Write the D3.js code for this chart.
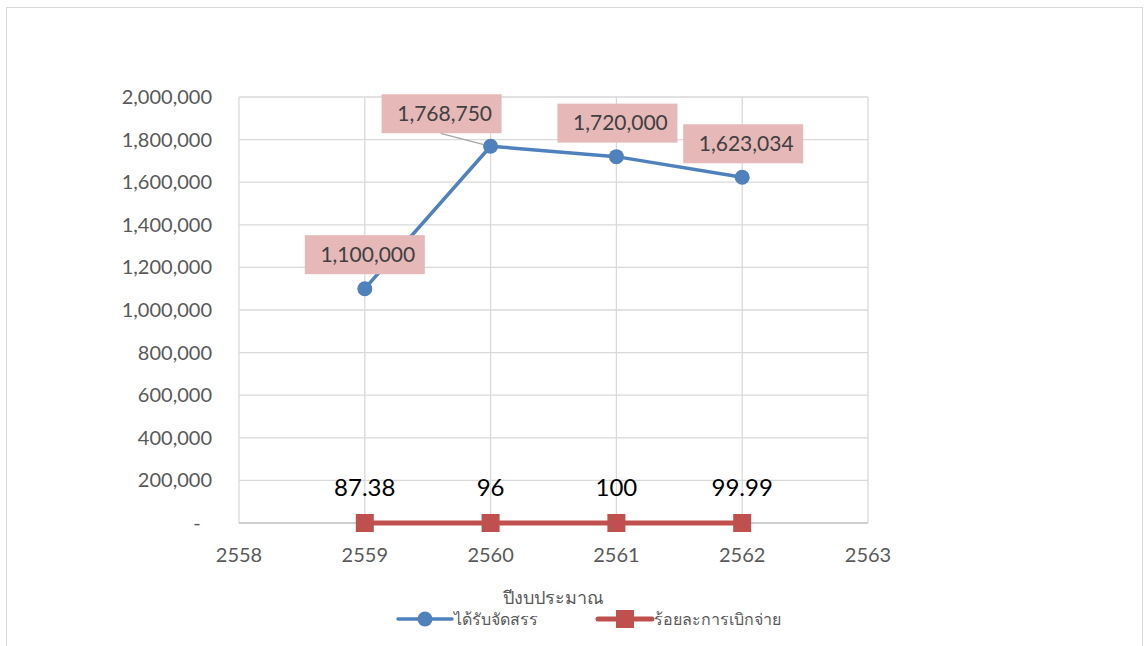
<!DOCTYPE html>
<html>
<head>
<meta charset="utf-8">
<script src="https://cdn.jsdelivr.net/npm/d3@7"></script>
<style>
  body { margin: 0; background: #fff; }
  text { font-family: Lato, "Noto Sans", sans-serif; }
</style>
</head>
<body>
<div id="chart"></div>
<script>
// data
const years = [2559, 2560, 2561, 2562];
const allocated = [1100000, 1768750, 1720000, 1623034];
const disbursedPct = [87.38, 96, 100, 99.99];
const xTicks = [2558, 2559, 2560, 2561, 2562, 2563];
const yTicks = [0, 200000, 400000, 600000, 800000, 1000000, 1200000, 1400000, 1600000, 1800000, 2000000];
const xTitle = "ปีงบประมาณ";
const seriesNames = ["ได้รับจัดสรร", "ร้อยละการเบิกจ่าย"];

const width = 1144, height = 646;
const margin = {top: 97, right: 276, bottom: 123, left: 239};

const svg = d3.select("#chart").append("svg")
    .attr("width", width)
    .attr("height", height);

// outer frame
svg.append("rect")
    .attr("x", 6.5).attr("y", 7.5)
    .attr("width", 1136).attr("height", 650)
    .attr("fill", "none").attr("stroke", "#d9d9d9");

const x = d3.scaleLinear().domain([2558, 2563]).range([margin.left, width - margin.right]);
const y = d3.scaleLinear().domain([0, 2000000]).range([height - margin.bottom, margin.top]);

const fmt = d3.format(",");

// gridlines
svg.append("g").selectAll("line.h")
    .data(yTicks.slice(1))
    .enter().append("line")
    .attr("x1", x(2558)).attr("x2", x(2563))
    .attr("y1", d => y(d)).attr("y2", d => y(d))
    .attr("stroke", "#d9d9d9").attr("stroke-width", 1.3);

svg.append("g").selectAll("line.v")
    .data(xTicks)
    .enter().append("line")
    .attr("x1", d => x(d)).attr("x2", d => x(d))
    .attr("y1", y(0)).attr("y2", y(2000000))
    .attr("stroke", "#d9d9d9").attr("stroke-width", 1.3);

// bottom axis line
svg.append("line")
    .attr("x1", x(2558)).attr("x2", x(2563))
    .attr("y1", y(0)).attr("y2", y(0))
    .attr("stroke", "#bfbfbf").attr("stroke-width", 1.3);

// y tick labels
svg.append("g").selectAll("text")
    .data(yTicks)
    .enter().append("text")
    .attr("x", d => d === 0 ? 197 : 212)
    .attr("y", d => y(d) + 7)
    .attr("text-anchor", d => d === 0 ? "middle" : "end")
    .attr("font-size", 20)
    .attr("fill", "#595959")
    .text(d => d === 0 ? "-" : fmt(d));

// x tick labels
svg.append("g").selectAll("text")
    .data(xTicks)
    .enter().append("text")
    .attr("x", d => x(d))
    .attr("y", 562)
    .attr("text-anchor", "middle")
    .attr("font-size", 20)
    .attr("fill", "#595959")
    .text(d => d);

// x title
svg.append("text")
    .attr("x", 553).attr("y", 604)
    .attr("text-anchor", "middle")
    .attr("font-size", 18)
    .attr("fill", "#595959")
    .text(xTitle);

// allocated series
const line = d3.line().x((d, i) => x(years[i])).y(d => y(d));

svg.append("path")
    .datum(allocated)
    .attr("d", line)
    .attr("fill", "none")
    .attr("stroke", "#4f81bd")
    .attr("stroke-width", 3.5)
    .attr("stroke-linejoin", "round");

// disbursed percentage series (same axis, so it sits near zero)
svg.append("path")
    .datum(disbursedPct)
    .attr("d", line)
    .attr("fill", "none")
    .attr("stroke", "#c0504d")
    .attr("stroke-width", 5);

// leader line for 2560 label
svg.append("line")
    .attr("x1", x(years[1]) - 50).attr("y1", y(allocated[1]) - 13)
    .attr("x2", x(years[1])).attr("y2", y(allocated[1]))
    .attr("stroke", "#a6a6a6").attr("stroke-width", 1.3);

svg.append("g").selectAll("circle")
    .data(allocated)
    .enter().append("circle")
    .attr("cx", (d, i) => x(years[i]))
    .attr("cy", d => y(d))
    .attr("r", 7.5)
    .attr("fill", "#4f81bd");

svg.append("g").selectAll("rect")
    .data(disbursedPct)
    .enter().append("rect")
    .attr("x", (d, i) => x(years[i]) - 9)
    .attr("y", d => y(d) - 9)
    .attr("width", 18).attr("height", 18)
    .attr("fill", "#c0504d");

// callout labels for allocated, centre offsets relative to each point
const labelOffsets = [[0, -34], [-49, -32.5], [1, -33.5], [1, -33.5]];
const boxW = 120, boxH = 39;

const callouts = svg.append("g").selectAll("g")
    .data(allocated)
    .enter().append("g")
    .attr("transform", (d, i) => {
        const cx = x(years[i]) + labelOffsets[i][0];
        const cy = y(d) + labelOffsets[i][1];
        return `translate(${cx},${cy})`;
    });

callouts.append("rect")
    .attr("x", -boxW / 2)
    .attr("y", -boxH / 2)
    .attr("width", boxW).attr("height", boxH)
    .attr("fill", "#e6b9b8");

callouts.append("text")
    .attr("x", 3)
    .attr("y", 7)
    .attr("text-anchor", "middle")
    .attr("font-size", 21)
    .attr("fill", "#404040")
    .text(d => fmt(d));

// percentage labels
svg.append("g").selectAll("text")
    .data(disbursedPct)
    .enter().append("text")
    .attr("x", (d, i) => x(years[i]))
    .attr("y", d => y(d) - 27)
    .attr("text-anchor", "middle")
    .attr("font-size", 24)
    .attr("fill", "#000")
    .text(d => d);

// legend
const legend = svg.append("g");
const legendItems = [
    {name: seriesNames[0], x0: 398, color: "#4f81bd", shape: "circle"},
    {name: seriesNames[1], x0: 598, color: "#c0504d", shape: "square"}
];
legendItems.forEach(it => {
    legend.append("line")
        .attr("x1", it.x0).attr("x2", it.x0 + 54)
        .attr("y1", 619).attr("y2", 619)
        .attr("stroke", it.color)
        .attr("stroke-width", it.shape === "circle" ? 3.5 : 5)
        .attr("stroke-linecap", "round");
    if (it.shape === "circle") {
        legend.append("circle").attr("cx", it.x0 + 27).attr("cy", 619).attr("r", 7.5).attr("fill", it.color);
    } else {
        legend.append("rect").attr("x", it.x0 + 18).attr("y", 610).attr("width", 18).attr("height", 18).attr("fill", it.color);
    }
    legend.append("text")
        .attr("x", it.x0 + 56).attr("y", 625)
        .attr("font-size", 16)
        .attr("fill", "#595959")
        .text(it.name);
});
</script>
</body>
</html>
